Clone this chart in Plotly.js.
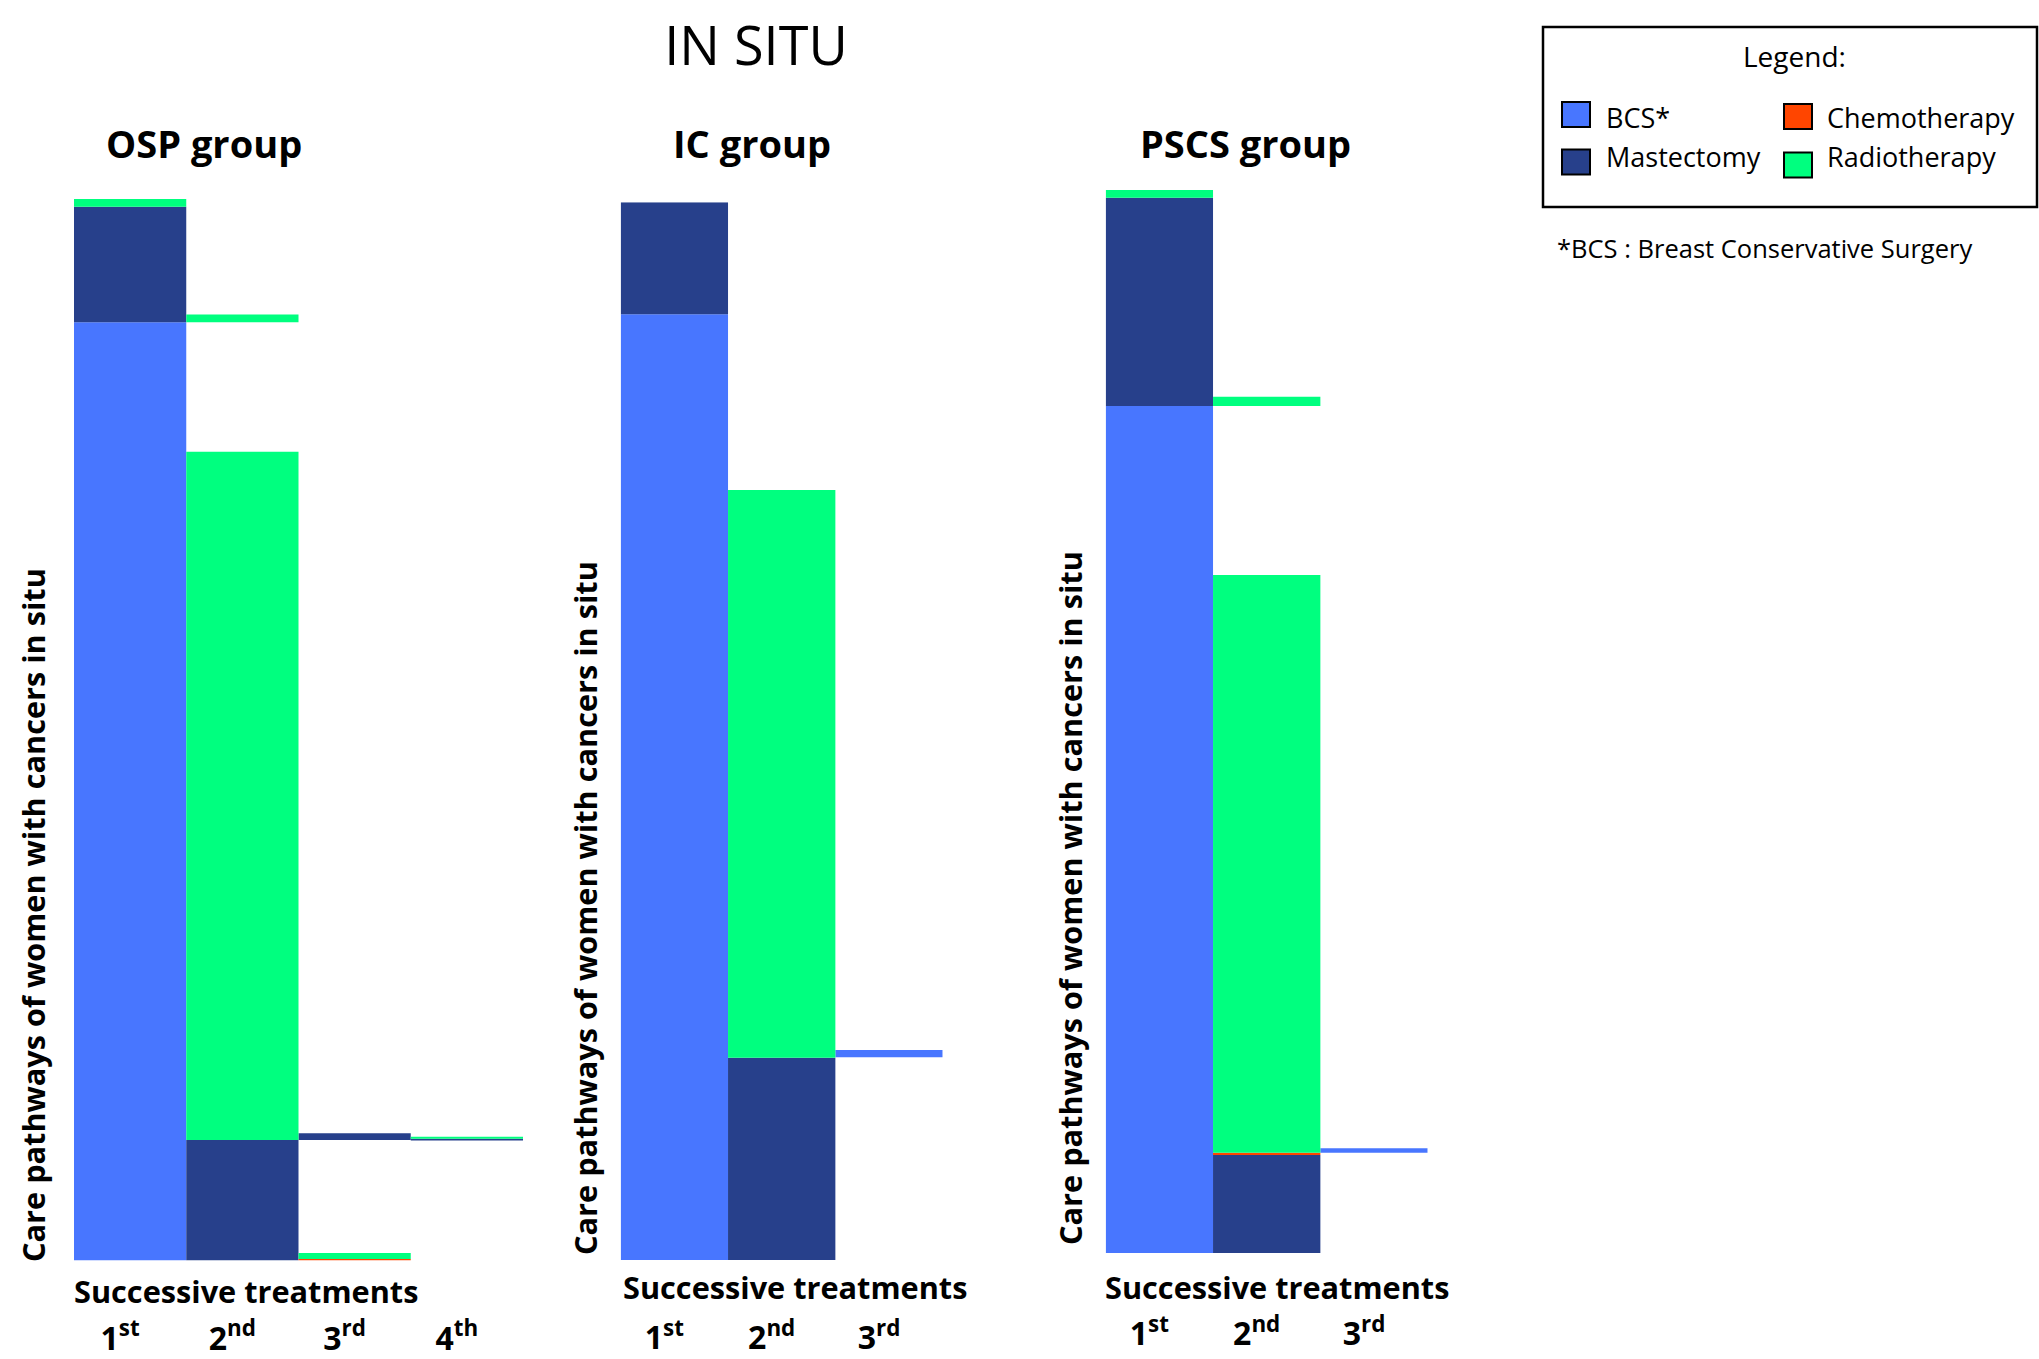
<!DOCTYPE html>
<html>
<head>
<meta charset="utf-8">
<script src="https://cdn.plot.ly/plotly-3.0.1.min.js"></script>
<style>
  html, body { margin: 0; padding: 0; background: #ffffff; }
  #chart { width: 2039px; height: 1359px; }
</style>
</head>
<body>
<div id="chart"></div>
<script>
// ---------------- DATA ----------------
const chartTitle = 'IN SITU';
const groupNames = ['OSP group', 'IC group', 'PSCS group'];
const xAxisTitle = 'Successive treatments';
const yAxisTitle = 'Care pathways of women with cancers in situ';

const treatments = ['BCS', 'Mastectomy', 'Chemotherapy', 'Radiotherapy'];
const treatmentLabels = ['BCS*', 'Mastectomy', 'Chemotherapy', 'Radiotherapy'];
const treatmentColors = ['#4876FF', '#27408B', '#FF4500', '#00FF7F'];
const legendTitle = 'Legend:';
const footnote = '*BCS : Breast Conservative Surgery';

const stepLabels = ['1<sup>st</sup>', '2<sup>nd</sup>', '3<sup>rd</sup>', '4<sup>th</sup>'];

// Segments listed from the bottom of each column upward (percent of women); 'None' = no further treatment
const ospStep1Treat = ['BCS', 'Mastectomy', 'Radiotherapy'];
const ospStep1Pct   = [88.38, 10.89, 0.73];
const ospStep2Treat = ['Mastectomy', 'Radiotherapy', 'None', 'Radiotherapy'];
const ospStep2Pct   = [11.35, 64.84, 12.19, 0.75];
const ospStep3Treat = ['Chemotherapy', 'Radiotherapy', 'None', 'Mastectomy'];
const ospStep3Pct   = [0.15, 0.55, 10.65, 0.63];
const ospStep4Treat = ['None', 'Mastectomy', 'Radiotherapy'];
const ospStep4Pct   = [11.30, 0.18, 0.18];

const icStep1Treat = ['BCS', 'Mastectomy'];
const icStep1Pct   = [89.41, 10.59];
const icStep2Treat = ['Mastectomy', 'Radiotherapy'];
const icStep2Pct   = [19.13, 53.67];
const icStep3Treat = ['None', 'BCS'];
const icStep3Pct   = [19.16, 0.69];

const pscsStep1Treat = ['BCS', 'Mastectomy', 'Radiotherapy'];
const pscsStep1Pct   = [79.68, 19.60, 0.72];
const pscsStep2Treat = ['Mastectomy', 'Chemotherapy', 'Radiotherapy', 'None', 'Radiotherapy'];
const pscsStep2Pct   = [9.22, 0.22, 54.35, 15.90, 0.87];
const pscsStep3Treat = ['None', 'BCS'];
const pscsStep3Pct   = [9.44, 0.41];

// ---------------- LAYOUT HELPERS ----------------
const W = 2039, H = 1359;
const px = v => v / W;
const py = v => 1 - v / H;

const panels = [
  { steps: [[ospStep1Treat, ospStep1Pct], [ospStep2Treat, ospStep2Pct], [ospStep3Treat, ospStep3Pct], [ospStep4Treat, ospStep4Pct]],
    xPx: [74, 523], yPx: [199, 1260.5], titleX: 204, yTitleX: 33, yTitleBottom: 1264, xTitleLeft: 74, xTitleY: 1291, standoff: 56 },
  { steps: [[icStep1Treat, icStep1Pct], [icStep2Treat, icStep2Pct], [icStep3Treat, icStep3Pct]],
    xPx: [620.7, 942.7], yPx: [202.3, 1260], titleX: 752, yTitleX: 585, yTitleBottom: 1257, xTitleLeft: 623, xTitleY: 1287, standoff: 56 },
  { steps: [[pscsStep1Treat, pscsStep1Pct], [pscsStep2Treat, pscsStep2Pct], [pscsStep3Treat, pscsStep3Pct]],
    xPx: [1105.7, 1427.7], yPx: [190, 1253], titleX: 1245, yTitleX: 1070, yTitleBottom: 1247, xTitleLeft: 1105, xTitleY: 1287, standoff: 59 }
];

const boldFont = { family: 'Open Sans', color: '#000000', weight: 'bold' };

const data = [];
const layout = {
  width: W, height: H,
  margin: { l: 0, r: 0, t: 0, b: 0, pad: 0 },
  paper_bgcolor: '#ffffff', plot_bgcolor: '#ffffff',
  barmode: 'overlay',
  showlegend: false,
  font: { family: 'Open Sans', color: '#000000' },
  title: {
    text: chartTitle,
    font: { family: 'Open Sans', size: 54, color: '#000000' },
    x: px(756), xanchor: 'center', xref: 'container',
    y: py(46), yanchor: 'middle', yref: 'container'
  },
  annotations: [],
  shapes: []
};

panels.forEach((p, gi) => {
  const sfx = gi === 0 ? '' : String(gi + 1);
  const xa = 'x' + sfx, ya = 'y' + sfx;
  const nSteps = p.steps.length;

  // one trace per treatment per panel, one bar per segment, stacked via base
  const perTreat = {};
  treatments.forEach(t => { perTreat[t] = { x: [], y: [], base: [] }; });
  p.steps.forEach((step, si) => {
    const names = step[0], vals = step[1];
    let cum = 0;
    names.forEach((nm, k) => {
      if (perTreat[nm]) {
        perTreat[nm].x.push(si + 1);
        perTreat[nm].y.push(vals[k]);
        perTreat[nm].base.push(cum);
      }
      cum += vals[k];
    });
  });
  treatments.forEach((t, ti) => {
    const d = perTreat[t];
    if (!d.x.length) return;
    data.push({
      type: 'bar', name: treatmentLabels[ti],
      x: d.x, y: d.y, base: d.base,
      width: 1,
      marker: { color: treatmentColors[ti], line: { width: 0 } },
      xaxis: xa, yaxis: ya,
      showlegend: false, hoverinfo: 'skip'
    });
  });

  layout['xaxis' + sfx] = {
    domain: [px(p.xPx[0]), px(p.xPx[1])],
    anchor: ya,
    range: [0.5, nSteps + 0.5],
    tickmode: 'array',
    tickvals: stepLabels.slice(0, nSteps).map((_, i) => i + 1),
    ticktext: stepLabels.slice(0, nSteps),
    tickfont: Object.assign({ size: 32 }, boldFont),
    ticks: '', showline: false, showgrid: false, zeroline: false,
    ticklabelstandoff: p.standoff,
    ticklabelshift: -10,
    fixedrange: true, automargin: false
  };
  layout['yaxis' + sfx] = {
    domain: [py(p.yPx[1]), py(p.yPx[0])],
    anchor: xa,
    range: [0, 100],
    showticklabels: false, ticks: '', showline: false, showgrid: false, zeroline: false,
    fixedrange: true, automargin: false
  };

  // group title
  layout.annotations.push({
    text: groupNames[gi], xref: 'paper', yref: 'paper',
    x: px(p.titleX), y: py(143), xanchor: 'center', yanchor: 'middle',
    showarrow: false, font: Object.assign({ size: 38 }, boldFont)
  });
  // x title (placed between bars and tick labels)
  layout.annotations.push({
    text: xAxisTitle, xref: 'paper', yref: 'paper',
    x: px(p.xTitleLeft - 1), y: py(p.xTitleY), xanchor: 'left', yanchor: 'middle',
    showarrow: false, borderpad: 0, font: Object.assign({ size: 30.7 }, boldFont)
  });
  // y title (rotated, bottom aligned)
  layout.annotations.push({
    text: yAxisTitle, xref: 'paper', yref: 'paper',
    x: px(p.yTitleX), y: py(p.yTitleBottom), xanchor: 'center', yanchor: 'bottom',
    textangle: -90, showarrow: false, font: Object.assign({ size: 30.7 }, boldFont)
  });
});

// ---------------- CUSTOM LEGEND ----------------
layout.shapes.push({
  type: 'rect', xref: 'paper', yref: 'paper',
  x0: px(1543), x1: px(2037), y0: py(207), y1: py(27),
  line: { color: '#000000', width: 2.5 }, fillcolor: 'rgba(0,0,0,0)'
});
layout.annotations.push({
  text: legendTitle, xref: 'paper', yref: 'paper', x: px(1794), y: py(56),
  xanchor: 'center', yanchor: 'middle', showarrow: false,
  font: { family: 'Open Sans', size: 28, color: '#000000' }
});
const legendPos = {
  'BCS':          { sx: 1562, sy: 102,   tx: 1604, ty: 117 },
  'Mastectomy':   { sx: 1562, sy: 149.5, tx: 1604, ty: 156 },
  'Chemotherapy': { sx: 1784, sy: 104,   tx: 1825, ty: 117 },
  'Radiotherapy': { sx: 1784, sy: 152.5, tx: 1825, ty: 156 }
};
treatments.forEach((t, ti) => {
  const lp = legendPos[t];
  layout.shapes.push({
    type: 'rect', xref: 'paper', yref: 'paper',
    x0: px(lp.sx), x1: px(lp.sx + 28), y0: py(lp.sy + 25), y1: py(lp.sy),
    line: { color: '#000000', width: 2 }, fillcolor: treatmentColors[ti]
  });
  layout.annotations.push({
    text: treatmentLabels[ti], xref: 'paper', yref: 'paper',
    x: px(lp.tx), y: py(lp.ty), xanchor: 'left', yanchor: 'middle', showarrow: false,
    font: { family: 'Open Sans', size: 27, color: '#000000' }
  });
});
layout.annotations.push({
  text: footnote, xref: 'paper', yref: 'paper', x: px(1555), y: py(248),
  xanchor: 'left', yanchor: 'middle', showarrow: false,
  font: { family: 'Open Sans', size: 25.5, color: '#000000' }
});

Plotly.newPlot('chart', data, layout, { displayModeBar: false, staticPlot: true });
</script>
</body>
</html>
